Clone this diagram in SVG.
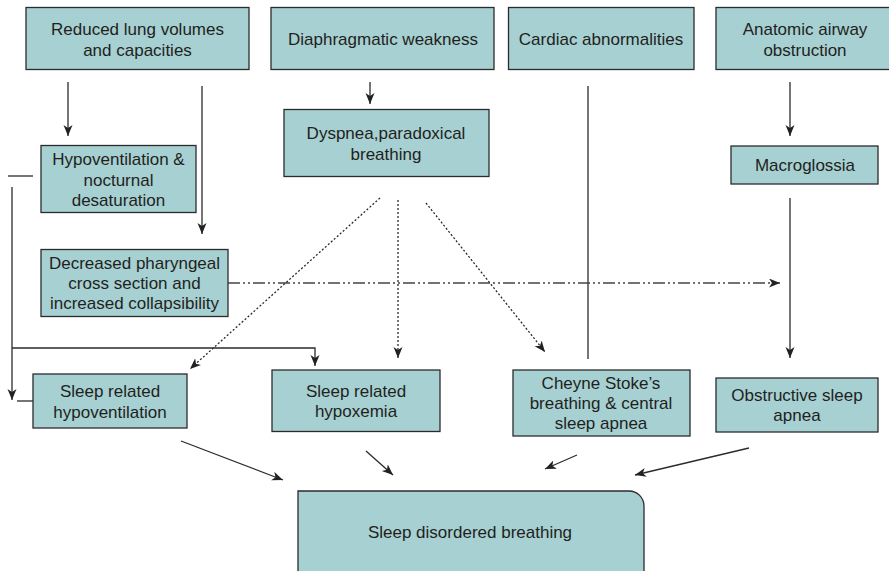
<svg xmlns="http://www.w3.org/2000/svg" width="889" height="571" viewBox="0 0 889 571">
<defs>
<style>
.box{fill:#a6d0d2;stroke:#2b2b2b;stroke-width:1.3}
.t{font-family:"Liberation Sans",Arial,sans-serif;font-size:17px;fill:#231f20;text-anchor:middle}
.ln{fill:none;stroke:#2b2b2b;stroke-width:1.3}
.dot{fill:none;stroke:#2b2b2b;stroke-width:1.3;stroke-dasharray:2,2}
.dd{fill:none;stroke:#444;stroke-width:1.3;stroke-dasharray:12,3,2,3,2,3}
</style>
<marker id="ah" markerUnits="userSpaceOnUse" markerWidth="12" markerHeight="10" refX="11" refY="4.5" orient="auto">
<path d="M0,0 L11,4.5 L0,9 L3,4.5 z" fill="#222"/>
</marker>
</defs>
<rect width="889" height="571" fill="#fff"/>
<g id="n1"><rect class="box" x="26" y="7.5" width="223" height="62"/><text class="t" x="137.5" y="35">Reduced lung volumes</text><text class="t" x="137.5" y="56">and capacities</text></g>
<g id="n2"><rect class="box" x="271" y="7.5" width="223" height="62"/><text class="t" x="383" y="45">Diaphragmatic weakness</text></g>
<g id="n3"><rect class="box" x="508.5" y="7.5" width="185.5" height="62"/><text class="t" x="601" y="45">Cardiac abnormalities</text></g>
<g id="n4"><rect class="box" x="716" y="7.5" width="180" height="62"/><text class="t" x="805" y="35">Anatomic airway</text><text class="t" x="805" y="56">obstruction</text></g>
<g id="n5"><rect class="box" x="41" y="145.5" width="155" height="67"/><text class="t" x="118.5" y="165">Hypoventilation &amp;</text><text class="t" x="118.5" y="186">nocturnal</text><text class="t" x="118.5" y="206">desaturation</text></g>
<g id="n6"><rect class="box" x="284" y="109.5" width="205" height="67"/><text class="t" x="386" y="139">Dyspnea,paradoxical</text><text class="t" x="386" y="160">breathing</text></g>
<g id="n7"><rect class="box" x="731" y="146" width="147" height="38"/><text class="t" x="805" y="171">Macroglossia</text></g>
<g id="n8"><rect class="box" x="41" y="249.5" width="187" height="67"/><text class="t" x="134.5" y="269">Decreased pharyngeal</text><text class="t" x="134.5" y="289">cross section and</text><text class="t" x="134.5" y="309">increased collapsibility</text></g>
<g id="n9"><rect class="box" x="33" y="374" width="154" height="54"/><text class="t" x="110" y="397">Sleep related</text><text class="t" x="110" y="418">hypoventilation</text></g>
<g id="n10"><rect class="box" x="272" y="370" width="168" height="61.5"/><text class="t" x="356" y="397">Sleep related</text><text class="t" x="356" y="417">hypoxemia</text></g>
<g id="n11"><rect class="box" x="513" y="370" width="177" height="66"/><text class="t" x="601" y="389">Cheyne Stoke’s</text><text class="t" x="601" y="409">breathing &amp; central</text><text class="t" x="601" y="429">sleep apnea</text></g>
<g id="n12"><rect class="box" x="716" y="378" width="162" height="54"/><text class="t" x="797" y="401">Obstructive sleep</text><text class="t" x="797" y="421">apnea</text></g>
<g id="n13"><path class="box" d="M298,491 H629 A15,15 0 0 1 644,506 V580 H298 Z"/><text class="t" x="470" y="538">Sleep disordered breathing</text></g>
<g id="connectors">
<line class="ln" x1="68" y1="82" x2="68" y2="136" marker-end="url(#ah)"/>
<line class="ln" x1="202" y1="86" x2="202" y2="234" marker-end="url(#ah)"/>
<line class="ln" x1="370" y1="82" x2="370" y2="104" marker-end="url(#ah)"/>
<line class="ln" x1="790" y1="82" x2="790" y2="136" marker-end="url(#ah)"/>
<line class="ln" x1="588" y1="86" x2="588" y2="359"/>
<line class="ln" x1="790" y1="198" x2="790" y2="358" marker-end="url(#ah)"/>
<line class="ln" x1="8" y1="176" x2="33" y2="176"/>
<line class="ln" x1="12" y1="187" x2="12" y2="400" marker-end="url(#ah)"/>
<line class="ln" x1="17" y1="401" x2="33" y2="401"/>
<polyline class="ln" points="12,348 315,348 315,366" marker-end="url(#ah)"/>
<line class="dd" x1="228" y1="283" x2="780" y2="283" marker-end="url(#ah)"/>
<line class="dot" x1="380" y1="198" x2="190" y2="369" marker-end="url(#ah)"/>
<line class="dot" x1="398" y1="200" x2="398" y2="358" marker-end="url(#ah)"/>
<line class="dot" x1="426" y1="203" x2="545" y2="352" marker-end="url(#ah)"/>
<line class="ln" x1="181" y1="441" x2="283" y2="480" marker-end="url(#ah)"/>
<line class="ln" x1="366" y1="451" x2="393" y2="475" marker-end="url(#ah)"/>
<line class="ln" x1="577" y1="455" x2="545" y2="469" marker-end="url(#ah)"/>
<line class="ln" x1="749" y1="448" x2="635" y2="475" marker-end="url(#ah)"/>
</g>
</svg>
